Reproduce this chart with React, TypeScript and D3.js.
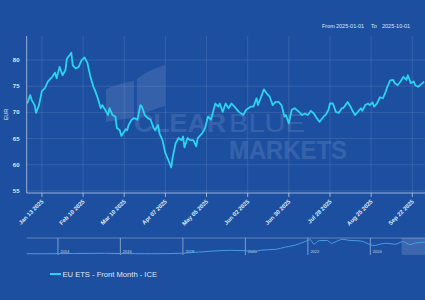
import React from "react";
import * as d3 from "d3";

const dates: string[] = [
  "2025-01-03","2025-01-05","2025-01-06","2025-01-08","2025-01-09","2025-01-11","2025-01-13","2025-01-15","2025-01-17","2025-01-20",
  "2025-01-22","2025-01-23","2025-01-25","2025-01-27","2025-01-29","2025-01-30","2025-02-01","2025-02-02","2025-02-03","2025-02-05",
  "2025-02-07","2025-02-09","2025-02-11","2025-02-13","2025-02-15","2025-02-17","2025-02-18","2025-02-20","2025-02-22","2025-02-23",
  "2025-02-25","2025-02-27","2025-02-28","2025-03-02","2025-03-04","2025-03-05","2025-03-07","2025-03-08","2025-03-11","2025-03-12",
  "2025-03-13","2025-03-15","2025-03-17","2025-03-19","2025-03-21","2025-03-22","2025-03-24","2025-03-26","2025-03-28","2025-03-30",
  "2025-03-31","2025-04-02","2025-04-03","2025-04-05","2025-04-07","2025-04-09","2025-04-11","2025-04-12","2025-04-14","2025-04-16",
  "2025-04-18","2025-04-19","2025-04-20","2025-04-22","2025-04-24","2025-04-26","2025-04-28","2025-04-29","2025-05-02","2025-05-04",
  "2025-05-06","2025-05-08","2025-05-11","2025-05-13","2025-05-14","2025-05-16","2025-05-18","2025-05-20","2025-05-22","2025-05-24",
  "2025-05-27","2025-05-30","2025-06-01","2025-06-04","2025-06-06","2025-06-08","2025-06-09","2025-06-12","2025-06-13","2025-06-15",
  "2025-06-17","2025-06-19","2025-06-21","2025-06-23","2025-06-25","2025-06-27","2025-06-28","2025-06-30","2025-07-02","2025-07-04",
  "2025-07-07","2025-07-09","2025-07-11","2025-07-13","2025-07-15","2025-07-17","2025-07-19","2025-07-21","2025-07-24","2025-07-25",
  "2025-07-27","2025-07-28","2025-07-30","2025-08-01","2025-08-03","2025-08-05","2025-08-06","2025-08-09","2025-08-11","2025-08-12",
  "2025-08-14","2025-08-16","2025-08-18","2025-08-19","2025-08-21","2025-08-23","2025-08-24","2025-08-26","2025-08-27","2025-08-29",
  "2025-08-31","2025-09-02","2025-09-04","2025-09-05","2025-09-07","2025-09-09","2025-09-10","2025-09-12","2025-09-14","2025-09-16",
  "2025-09-18","2025-09-19","2025-09-21","2025-09-23","2025-09-24","2025-09-26","2025-09-29","2025-09-30"
];

const prices: number[] = [
  71.7,73.3,72.4,71.4,69.9,71.4,74.1,74.6,75.9,76.8,
  77.6,76.5,78.7,77.1,78.1,80.3,81.0,81.4,79.0,78.4,
  78.7,80.0,80.5,79.4,76.8,74.9,74.3,72.7,70.8,71.4,
  70.5,69.5,70.8,69.5,69.2,67.0,66.6,65.5,66.8,66.6,
  67.6,68.6,68.9,68.6,71.4,71.1,69.5,68.9,68.6,67.0,
  66.6,67.6,66.0,64.7,62.2,60.9,59.5,61.5,64.1,65.1,
  64.7,65.4,63.3,65.1,64.7,64.7,63.5,65.1,66.0,67.0,
  69.2,68.6,71.7,71.1,71.7,70.1,71.7,70.8,71.7,71.1,
  70.1,69.5,70.5,71.1,71.1,72.7,71.4,73.6,74.4,73.6,
  73.0,71.4,72.0,72.0,71.4,69.2,69.5,67.9,70.5,70.8,
  70.1,69.5,69.8,69.5,70.3,69.8,68.9,68.2,69.3,69.5,
  70.5,71.7,71.7,70.1,69.9,70.8,70.8,72.0,71.1,70.5,
  69.5,70.1,70.8,70.3,71.4,71.7,71.4,71.9,71.1,71.7,
  72.9,72.7,74.0,74.9,76.1,76.2,75.6,75.2,75.9,76.8,
  76.2,77.1,75.6,75.9,75.2,74.9,75.6,75.9
];

const xTicks: string[] = ["2025-01-13","2025-02-10","2025-03-10","2025-04-07","2025-05-05","2025-06-02","2025-06-30","2025-07-28","2025-08-25","2025-09-22"];
const yTicks: number[] = [55, 60, 65, 70, 75, 80];

const navDates: string[] = [
  "2013-01-01","2013-07-01","2014-01-01","2014-07-01","2015-01-01","2015-07-01","2016-01-01","2016-07-01",
  "2017-01-01","2017-07-01","2018-01-01","2018-07-01","2019-01-01","2019-07-01","2020-01-01","2020-04-01",
  "2020-07-01","2021-01-01","2021-04-01","2021-08-01","2021-11-15","2022-02-01","2022-03-10","2022-05-15",
  "2022-08-15","2022-10-01","2022-12-01","2023-02-15","2023-05-01","2023-07-01","2023-09-15","2023-11-15",
  "2024-02-15","2024-05-01","2024-07-15","2024-10-15","2025-01-15","2025-04-07","2025-06-15","2025-09-30"
];
const navValues: number[] = [
  5, 4.5, 5.5, 6, 7, 7.5, 6, 5,
  5, 5.5, 8, 15, 22, 26, 24, 18,
  27, 33, 45, 58, 78, 92, 65, 87,
  88, 70, 82, 95, 88, 87, 84, 72,
  56, 66, 70, 64, 80, 62, 72, 76
];
const navYears: string[] = ["2014", "2016", "2018", "2020", "2022", "2024"];

const rangeFrom = "2025-01-01";
const rangeTo = "2025-10-01";
const seriesName = "EU ETS - Front Month - ICE";

const W = 425, H = 300;
const BG = "#1d4fa1";
const LINE = "#2ad4ef";
const TXT = "#dfe8f7";
const FONT = "'Liberation Sans', Arial, sans-serif";

export default function App() {
  const parse = d3.utcParse("%Y-%m-%d");
  const fmt = d3.utcFormat("%b %d %Y");
  const left = 26.7, right = 425, top = 36, bottom = 193;
  const x = d3.scaleUtc().domain([parse("2025-01-01")!, parse("2025-10-01")!]).range([24.3, 425.5]);
  const y = d3.scaleLinear().domain([54.6, 84.6]).range([bottom, top]);
  const pts = dates.map((d, i) => [parse(d)!, prices[i]] as [Date, number]);
  const line = d3.line<[Date, number]>().x(d => x(d[0])).y(d => y(d[1]));

  const navTop = 238, navBot = 255;
  const nx = d3.scaleUtc().domain([parse("2013-01-01")!, parse("2025-10-01")!]).range([left, 425]);
  const ny = d3.scaleLinear().domain([0, 100]).range([navBot - 0.5, navTop + 0.5]);
  const npts = navDates.map((d, i) => [parse(d)!, navValues[i]] as [Date, number]);
  const nline = d3.line<[Date, number]>().x(d => nx(d[0])).y(d => ny(d[1])).curve(d3.curveMonotoneX);
  const selX0 = nx(parse(rangeFrom)!);

  return (
    <svg width={W} height={H} style={{ position: "fixed", left: 0, top: 0 }} fontFamily={FONT}>
      <rect x={0} y={0} width={W} height={H} fill={BG} />
      {/* watermark */}
      <g fill="#ffffff" opacity={0.1}>
        <path d="M106,89 Q120,83 134,81 L134,118 Q120,119 106,122 Z" />
        <path d="M137,79 Q150,69 165,65 L165,106 Q150,110 137,117 Z" />
      </g>
      <g fill="#ffffff" opacity={0.11} fontFamily="'Liberation Sans', Arial, sans-serif">
        <text x={134} y={132} fontSize={25} fontWeight="bold" textLength={92} lengthAdjust="spacingAndGlyphs">CLEAR</text>
        <text x={229} y={132} fontSize={25} textLength={76} lengthAdjust="spacingAndGlyphs">BLUE</text>
        <text x={229} y={159} fontSize={25} fontWeight="bold" textLength={118} lengthAdjust="spacingAndGlyphs">MARKETS</text>
      </g>
      {/* grid */}
      {yTicks.map(t => (
        <line key={"gy" + t} x1={left} x2={right} y1={y(t)} y2={y(t)} stroke="#ffffff" strokeOpacity={0.13} strokeWidth={0.8} />
      ))}
      {xTicks.map(t => (
        <line key={"gx" + t} x1={x(parse(t)!)} x2={x(parse(t)!)} y1={top} y2={bottom} stroke="#ffffff" strokeOpacity={0.13} strokeWidth={0.8} />
      ))}
      <line x1={left} x2={left} y1={top} y2={bottom} stroke="#ffffff" strokeOpacity={0.55} strokeWidth={1} />
      <line x1={left} x2={right} y1={bottom} y2={bottom} stroke="#ffffff" strokeOpacity={0.55} strokeWidth={1} />
      {xTicks.map(t => (
        <line key={"tk" + t} x1={x(parse(t)!)} x2={x(parse(t)!)} y1={bottom} y2={bottom + 4} stroke="#ffffff" strokeOpacity={0.55} strokeWidth={1} />
      ))}
      {/* y labels */}
      {yTicks.map(t => (
        <text key={"yl" + t} x={19.5} y={y(t) + 2} fontSize={6} fontWeight="bold" fill={TXT} textAnchor="end">{t}</text>
      ))}
      <text transform={`translate(8,${(top + bottom) / 2}) rotate(-90)`} fontSize={5.5} fill={TXT} textAnchor="middle">EUR</text>
      {/* x labels */}
      {xTicks.map(t => (
        <text key={"xl" + t} transform={`translate(${x(parse(t)!) + 2},${bottom + 9}) rotate(-45)`} fontSize={5.8} fontWeight="bold" fill={TXT} textAnchor="end">{fmt(parse(t)!)}</text>
      ))}
      {/* series */}
      <defs>
        <clipPath id="plotclip"><rect x={left} y={top - 5} width={right - left} height={bottom - top + 10} /></clipPath>
      </defs>
      <path d={line(pts) || ""} fill="none" stroke={LINE} strokeWidth={1.8} strokeLinejoin="round" clipPath="url(#plotclip)" />
      {/* range text */}
      <g fontSize={5.5} fill={TXT}>
        <text x={322} y={28}>From</text>
        <text x={336} y={28}>{rangeFrom}</text>
        <text x={371} y={28}>To</text>
        <text x={382} y={28}>{rangeTo}</text>
      </g>
      {/* navigator */}
      <line x1={left} x2={425} y1={navTop} y2={navTop} stroke="#ffffff" strokeOpacity={0.3} strokeWidth={1} />
      <rect x={selX0} y={navTop} width={425 - selX0} height={navBot - navTop} fill="#ffffff" fillOpacity={0.14} />
      {navYears.map(yr => {
        const px = nx(parse(yr + "-01-01")!);
        return (
          <g key={yr}>
            <line x1={px} x2={px} y1={navTop} y2={navBot} stroke="#ffffff" strokeOpacity={0.55} strokeWidth={0.8} />
            <text x={px + 2.5} y={navBot - 2.5} fontSize={4} fill={TXT} opacity={0.85}>{yr}</text>
          </g>
        );
      })}
      <path d={nline(npts) || ""} fill="none" stroke="#4a9be0" strokeWidth={1} />
      {/* legend */}
      <line x1={50} x2={61} y1={274} y2={274} stroke={LINE} strokeWidth={2} />
      <text x={62.5} y={276.8} fontSize={7.6} fill={TXT}>{seriesName}</text>
    </svg>
  );
}
